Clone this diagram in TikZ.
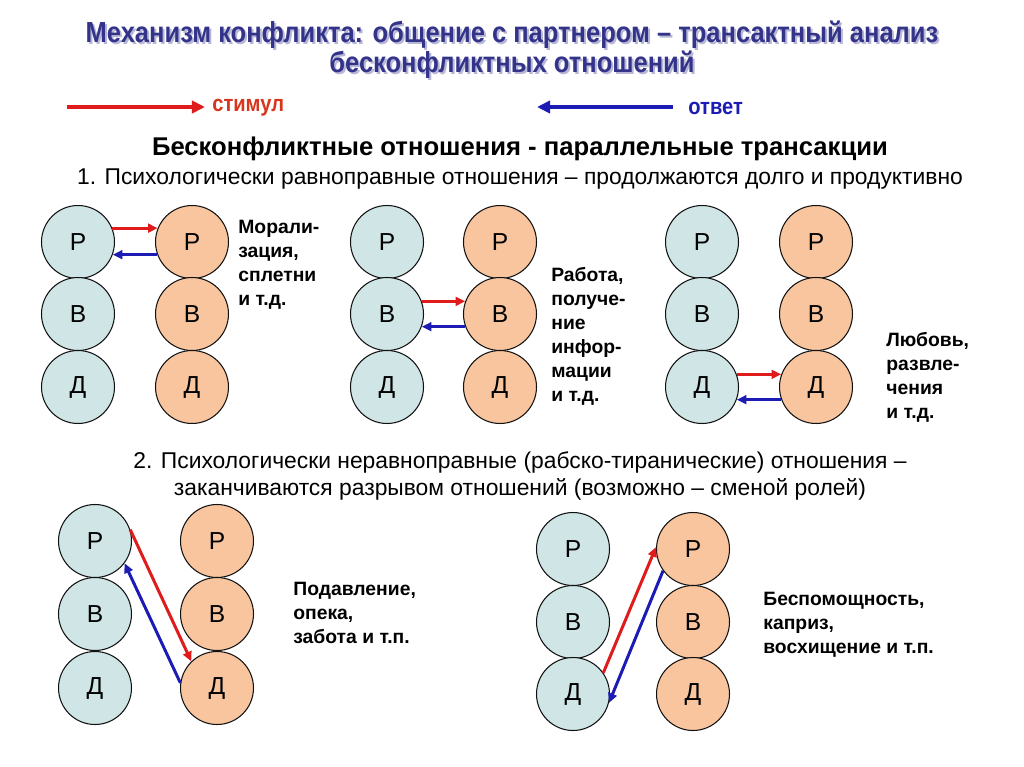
\documentclass[tikz,border=0pt]{standalone}
\usepackage{fontspec}
\setmainfont{Liberation Sans}
\newfontfamily\narrowfont[FakeStretch=0.88]{Liberation Sans}
\usetikzlibrary{arrows.meta}
\definecolor{Ink}{HTML}{111111}
\definecolor{TitleInk}{HTML}{33338A}
\definecolor{PeerBlue}{HTML}{CFE5E6}
\definecolor{PeerPeach}{HTML}{F8C59F}
\definecolor{StimRed}{HTML}{E01B1B}
\definecolor{StimText}{HTML}{D8361C}
\definecolor{RespBlue}{HTML}{1C1CB4}

\begin{document}
\begin{tikzpicture}[x=0.02cm,y=-0.02cm,>={Triangle[length=5.5pt,width=5pt]},
  egoA/.style={circle,draw=Ink,line width=0.6pt,fill=PeerBlue,minimum size=1.46cm,inner sep=0pt,font=\fontsize{14}{14}\selectfont},
  egoB/.style={egoA,fill=PeerPeach},
  stim/.style={->,StimRed,line width=1.7pt},
  resp/.style={->,RespBlue,line width=1.7pt},
  remark/.style={anchor=north west,align=left,inner sep=0pt,font=\bfseries\fontsize{11}{13.6}\selectfont},
  plain/.style={inner sep=0pt,font=\fontsize{13}{15.3}\selectfont}]
\useasboundingbox[fill=white] (0,0) rectangle (1024,767);
% title with its shadow
\node[TitleInk!35,align=center,inner sep=0pt,font=\narrowfont\bfseries\fontsize{16.5}{16.9}\selectfont] (titleshade) at (514,52) {Механизм конфликта: общение с партнером – трансактный анализ\\бесконфликтных отношений};
\node[TitleInk,align=center,inner sep=0pt,font=\narrowfont\bfseries\fontsize{16.5}{16.9}\selectfont] (title) at (512,50) {Механизм конфликта: общение с партнером – трансактный анализ\\бесконфликтных отношений};
% legend
\coordinate (stimA) at (67,107);
\coordinate (stimB) at (205,107);
\coordinate (respA) at (673,107);
\coordinate (respB) at (537,107);
\draw[-{Triangle[length=7.5pt,width=7pt]},StimRed,line width=2.2pt] (stimA) -- (stimB);
\draw[-{Triangle[length=7.5pt,width=7pt]},RespBlue,line width=2.2pt] (respA) -- (respB);
\node[anchor=west,inner sep=0pt,text=StimText,font=\narrowfont\bfseries\fontsize{13}{15}\selectfont] (stimtext) at (212,108) {стимул};
\node[anchor=west,inner sep=0pt,text=RespBlue,font=\narrowfont\bfseries\fontsize{13}{15}\selectfont] (resptext) at (688,108) {ответ};
% section 1
\node[inner sep=0pt,font=\bfseries\fontsize{14.6}{17}\selectfont] (headA) at (520,149) {Бесконфликтные отношения - параллельные трансакции};
\node[plain] (headB) at (520,179) {1. Психологически равноправные отношения – продолжаются долго и продуктивно};

\node[egoA] (a1P) at (78,242) {Р};
\node[egoA] (a1B) at (78,314) {В};
\node[egoA] (a1D) at (78,387) {Д};
\node[egoB] (b1P) at (192,242) {Р};
\node[egoB] (b1B) at (192,314) {В};
\node[egoB] (b1D) at (192,387) {Д};
\draw[stim] (a1P.22) -- (b1P.158);
\draw[resp] (b1P.-160) -- (a1P.-20);
\node[remark] (note1) at (238,220) {Морали-\\зация,\\сплетни\\и т.д.};

\node[egoA] (a2P) at (387,242) {Р};
\node[egoA] (a2B) at (387,314) {В};
\node[egoA] (a2D) at (387,387) {Д};
\node[egoB] (b2P) at (500,242) {Р};
\node[egoB] (b2B) at (500,314) {В};
\node[egoB] (b2D) at (500,387) {Д};
\draw[stim] (a2B.20) -- (b2B.160);
\draw[resp] (b2B.-160) -- (a2B.-20);
\node[remark] (note2) at (551,267) {Работа,\\получе-\\ние\\инфор-\\мации\\и т.д.};

\node[egoA] (a3P) at (702,242) {Р};
\node[egoA] (a3B) at (702,314) {В};
\node[egoA] (a3D) at (702,387) {Д};
\node[egoB] (b3P) at (816,242) {Р};
\node[egoB] (b3B) at (816,314) {В};
\node[egoB] (b3D) at (816,387) {Д};
\draw[stim] (a3D.20) -- (b3D.160);
\draw[resp] (b3D.-160) -- (a3D.-20);
\node[remark] (note3) at (886,332) {Любовь,\\развле-\\чения\\и т.д.};

% section 2
\node[plain,align=center] (headC) at (520,476) {2. Психологически неравноправные (рабско-тиранические) отношения –\\заканчиваются разрывом отношений (возможно – сменой ролей)};

\node[egoA] (a4P) at (95,541) {Р};
\node[egoA] (a4B) at (95,614) {В};
\node[egoA] (a4D) at (95,688) {Д};
\node[egoB] (b4P) at (217,541) {Р};
\node[egoB] (b4B) at (217,614) {В};
\node[egoB] (b4D) at (217,688) {Д};
\draw[stim] (a4P.18) -- (b4D.134);
\draw[resp] (b4D.172) -- (a4P.-37);
\node[remark] (note4) at (293,582) {Подавление,\\опека,\\забота и т.п.};

\node[egoA] (a5P) at (573,549) {Р};
\node[egoA] (a5B) at (573,622) {В};
\node[egoA] (a5D) at (573,694) {Д};
\node[egoB] (b5P) at (693,549) {Р};
\node[egoB] (b5B) at (693,622) {В};
\node[egoB] (b5D) at (693,694) {Д};
\draw[stim] (a5D.35) -- (b5P.177);
\draw[resp] (b5P.-144) -- (a5D.-14);
\node[remark] (note5) at (763,592) {Беспомощность,\\каприз,\\восхищение и т.п.};
\end{tikzpicture}
\end{document}
